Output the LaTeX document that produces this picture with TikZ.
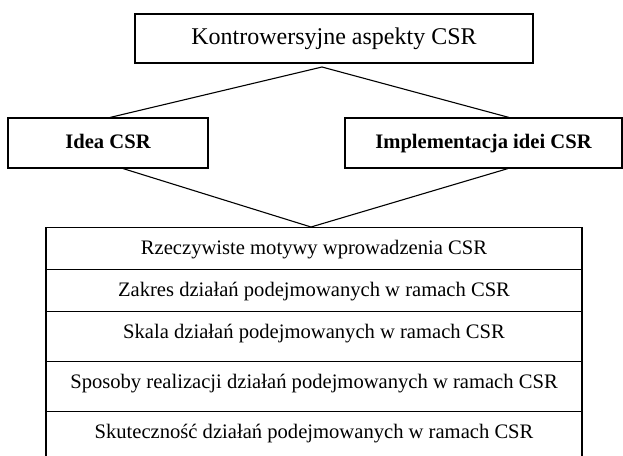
\documentclass[tikz,border=0pt]{standalone}
\usepackage{fontspec}
\setmainfont{Liberation Serif}
\usetikzlibrary{calc}

\begin{document}
\begin{tikzpicture}[
    x=1pt, y=-1pt,
    box/.style={draw=black, line width=1.1pt, inner sep=0pt, align=center},
    head/.style={box, minimum width=398pt, minimum height=49pt,
                 font=\fontsize{24}{28}\selectfont},
    side/.style={box, minimum height=50pt, text height=15pt, text depth=5pt,
                 font=\fontsize{20.6}{24}\selectfont\bfseries},
    row/.style={box, minimum width=536pt, text height=27pt,
                font=\fontsize{20.6}{24}\selectfont},
    link/.style={draw=black, line width=1.1pt},
]
\path[use as bounding box, clip] (0,0) rectangle (623,455);

% ===================== Nagłówek =====================
\node[head] (ctrl) at (334,38.5) {Kontrowersyjne aspekty CSR};

% ===================== Dwa aspekty =====================
\node[side, minimum width=200pt] (idea) at (108,143) {Idea CSR};
\node[side, minimum width=277pt] (impl) at (483.5,143) {Implementacja idei CSR};

% ===================== Lista kwestii =====================
\foreach \i/\ytop/\dep/\txt in {
    1/227/15/Rzeczywiste motywy wprowadzenia CSR,
    2/269/15/Zakres działań podejmowanych w ramach CSR,
    3/311/23/Skala działań podejmowanych w ramach CSR,
    4/361/23/Sposoby realizacji działań podejmowanych w ramach CSR,
    5/411/23/Skuteczność działań podejmowanych w ramach CSR}{
    \node[row, anchor=north, text depth=\dep pt] (r\i) at (314,\ytop) {\txt};
}

% ===================== Połączenia =====================
\coordinate (apexTop) at (322,67);
\draw[link] ($(idea.north)+(2,0)$) -- (apexTop) -- ($(impl.north)+(25.5,0)$);
\draw[link] ($(idea.south)+(15,0)$) -- ($(r1.north)+(-3,0)$) -- ($(impl.south)+(24.5,0)$);

\end{tikzpicture}
\end{document}
